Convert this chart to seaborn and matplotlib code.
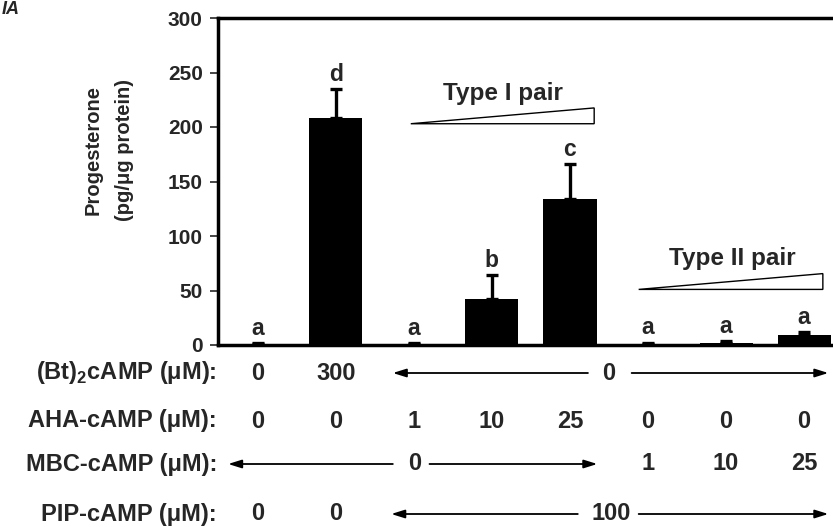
import matplotlib
matplotlib.use("Agg")
import matplotlib.pyplot as plt
import matplotlib.transforms as mtransforms
from matplotlib.patches import Polygon
import seaborn as sns
import pandas as pd

# ---------------- data ----------------
conditions = ["Control", "(Bt)2cAMP 300", "AHA 1", "AHA 10", "AHA 25",
              "MBC 1", "MBC 10", "MBC 25"]
progesterone = [1, 208, 1, 42, 134, 1, 2, 9]
sem = [0.8, 27, 0.8, 22, 32, 1, 1.5, 2.5]
letters = ["a", "d", "a", "b", "c", "a", "a", "a"]
yticks = [0, 50, 100, 150, 200, 250, 300]

row_labels = [r"(Bt)$_{\mathbf{2}}$cAMP (μM):", "AHA-cAMP (μM):",
              "MBC-cAMP (μM):", "PIP-cAMP (μM):"]
bt_vals = ["0", "300"]
aha_vals = ["0", "0", "1", "10", "25", "0", "0", "0"]
mbc_vals = ["1", "10", "25"]
pip_vals = ["0", "0"]

# ---------------- style ----------------
sns.set_style("ticks")
plt.rcParams["font.family"] = ["Liberation Sans", "DejaVu Sans"]
plt.rcParams["font.weight"] = "bold"
plt.rcParams["mathtext.fontset"] = "custom"
plt.rcParams["mathtext.bf"] = "Liberation Sans:bold"
plt.rcParams["mathtext.rm"] = "Liberation Sans:bold"

W, H = 833, 527
fig = plt.figure(figsize=(W / 100, H / 100), dpi=100)
ax_left, ax_top, ax_bottom = 218, 18, 345
ax = fig.add_axes([ax_left / W, 1 - ax_bottom / H, 1 - ax_left / W, (ax_bottom - ax_top) / H])

df = pd.DataFrame({"condition": conditions, "progesterone": progesterone})
sns.barplot(data=df, x="condition", y="progesterone", order=conditions,
            color="black", width=0.68, errorbar=None, linewidth=0,
            saturation=1, ax=ax)
xs = list(range(len(conditions)))
ax.errorbar(xs, progesterone, yerr=[[0] * len(sem), sem], fmt="none",
            ecolor="black", elinewidth=2.4, capsize=4.5, capthick=2.4, zorder=3)

for x, v, e, l in zip(xs, progesterone, sem, letters):
    ax.annotate(l, (x, v + e), xytext=(0, 6), textcoords="offset points",
                ha="center", va="baseline", fontsize=16.5, fontweight="bold")

ax.set_xlim(-0.51, 7.37)
ax.set_ylim(0, 300)
ax.set_yticks(yticks)
ax.set_yticklabels([str(t) for t in yticks], fontsize=15, fontweight="bold")
ax.set_xticks([])
ax.set_xlabel("")
ax.set_ylabel("")
ax.tick_params(axis="y", direction="out", length=6, width=1.2, pad=5)
for s in ["left", "top", "bottom"]:
    ax.spines[s].set_linewidth(2.5)
    ax.spines[s].set_color("black")
ax.spines["right"].set_visible(False)

# y label (two lines)
fig.text(93 / W, 1 - 150 / H, "Progesterone", rotation=90, ha="center", va="center",
         fontsize=14.5, fontweight="bold")
fig.text(125 / W, 1 - 150 / H, "(pg/μg protein)", rotation=90, ha="center", va="center",
         fontsize=14.5, fontweight="bold")

# panel label
fig.text(0.002, 0.999, "IA", ha="left", va="top", fontsize=13,
         fontweight="bold", fontstyle="italic")

# wedges
wedge1 = Polygon([(1.96, 203), (4.31, 217.5), (4.31, 203)], closed=True,
                 facecolor="white", edgecolor="black", lw=1.0, clip_on=False)
wedge2 = Polygon([(4.88, 51), (7.24, 65.5), (7.24, 51)], closed=True,
                 facecolor="white", edgecolor="black", lw=1.0, clip_on=False)
ax.add_patch(wedge1)
ax.add_patch(wedge2)
ax.text(3.14, 225, "Type I pair", ha="center", va="baseline", fontsize=17.5, fontweight="bold")
ax.text(6.08, 73.5, "Type II pair", ha="center", va="baseline", fontsize=17.5, fontweight="bold")

# treatment table below the axes
trans = mtransforms.blended_transform_factory(ax.transData, fig.transFigure)
row_y = [1 - 373 / H, 1 - 421 / H, 1 - 464 / H, 1 - 514 / H]
fs = 17

for lab, y in zip(row_labels, row_y):
    fig.text(217 / W, y, lab, ha="right", va="center", fontsize=fs, fontweight="bold")


def val(x, y, s):
    ax.text(x, y, s, transform=trans, ha="center", va="center", fontsize=fs,
            fontweight="bold", clip_on=False)


def arrow(x_from, x_to, y):
    ax.annotate("", xy=(x_to, y), xytext=(x_from, y), xycoords=trans, textcoords=trans,
                arrowprops=dict(arrowstyle="-|>,head_length=0.8,head_width=0.25",
                                lw=1.3, color="black", shrinkA=0, shrinkB=0))


# row 1
for x, s in zip([0, 1], bt_vals):
    val(x, row_y[0], s)
val(4.5, row_y[0], "0")
arrow(4.23, 1.73, row_y[0])
arrow(4.79, 7.31, row_y[0])
# row 2
for x, s in zip(xs, aha_vals):
    val(x, row_y[1], s)
# row 3
val(2.01, row_y[2], "0")
arrow(1.73, -0.38, row_y[2])
arrow(2.2, 4.35, row_y[2])
for x, s in zip([5, 6, 7], mbc_vals):
    val(x, row_y[2], s)
# row 4
for x, s in zip([0, 1], pip_vals):
    val(x, row_y[3], s)
val(4.53, row_y[3], "100")
arrow(4.1, 1.71, row_y[3])
arrow(4.88, 7.31, row_y[3])

fig.savefig("out.png", dpi=100)
